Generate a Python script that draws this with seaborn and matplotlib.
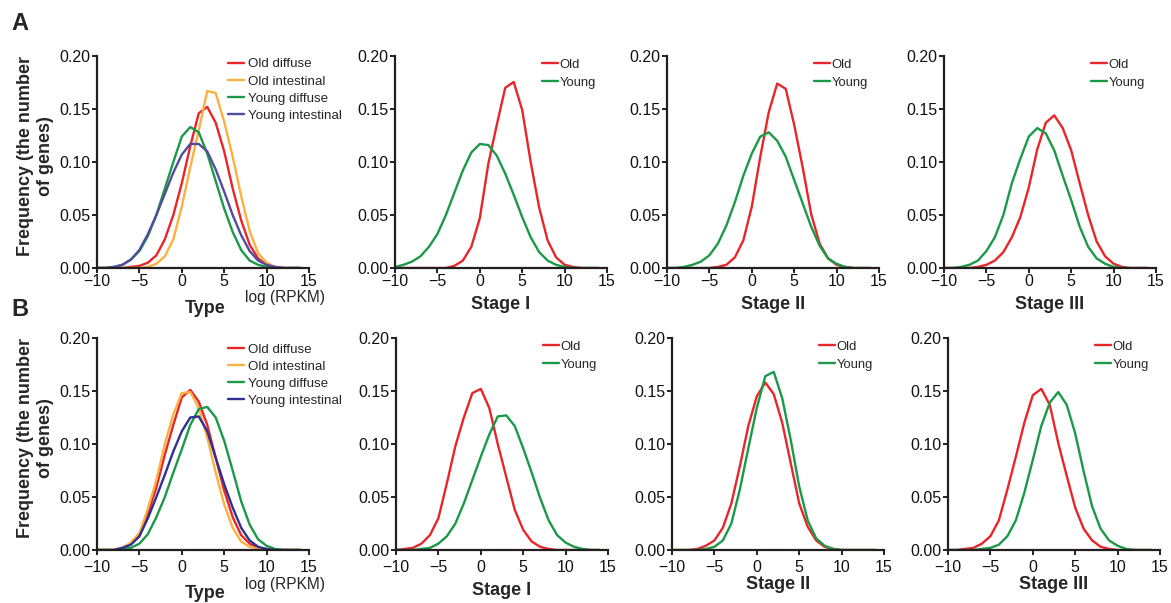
import numpy as np
import pandas as pd
import matplotlib
matplotlib.use("Agg")
import matplotlib.pyplot as plt
import seaborn as sns

# ---------------- data ----------------
x_vals = list(range(-10, 15))
x_ticks = [-10, -5, 0, 5, 10, 15]
y_ticks = [0.00, 0.05, 0.10, 0.15, 0.20]

type_labels = ["Old diffuse", "Old intestinal", "Young diffuse", "Young intestinal"]
stage_labels = ["Old", "Young"]
stage_titles = ["Stage I", "Stage II", "Stage III"]

# Row A
old_diffuse_A = [0, 0, 0, 0, 0.001, 0.002, 0.005, 0.012, 0.027, 0.05, 0.08, 0.115, 0.146, 0.152, 0.137, 0.11, 0.075, 0.045, 0.022, 0.009, 0.003, 0.001, 0, 0, 0]
old_intest_A = [0, 0, 0, 0, 0, 0, 0.001, 0.004, 0.011, 0.027, 0.058, 0.095, 0.13, 0.167, 0.165, 0.138, 0.105, 0.068, 0.035, 0.014, 0.005, 0.001, 0, 0, 0]
young_diffuse_A = [0, 0, 0.001, 0.003, 0.008, 0.016, 0.03, 0.05, 0.075, 0.10, 0.124, 0.133, 0.128, 0.108, 0.082, 0.056, 0.034, 0.017, 0.007, 0.003, 0.001, 0, 0, 0, 0]
young_intest_A = [0, 0, 0.001, 0.003, 0.008, 0.017, 0.032, 0.05, 0.07, 0.09, 0.107, 0.117, 0.117, 0.11, 0.093, 0.072, 0.05, 0.031, 0.016, 0.007, 0.003, 0.001, 0, 0, 0]

old_S1_A = [0, 0, 0, 0, 0, 0, 0, 0.002, 0.007, 0.02, 0.047, 0.098, 0.135, 0.17, 0.1755, 0.149, 0.10, 0.057, 0.026, 0.01, 0.003, 0.001, 0, 0, 0]
young_S1_A = [0.001, 0.003, 0.006, 0.011, 0.02, 0.032, 0.05, 0.071, 0.092, 0.109, 0.117, 0.116, 0.106, 0.089, 0.069, 0.048, 0.029, 0.015, 0.007, 0.003, 0.001, 0, 0, 0, 0]
old_S2_A = [0, 0, 0, 0, 0, 0, 0.001, 0.003, 0.01, 0.026, 0.058, 0.105, 0.147, 0.174, 0.169, 0.135, 0.095, 0.051, 0.023, 0.009, 0.003, 0.001, 0, 0, 0]
young_S2_A = [0, 0, 0.001, 0.003, 0.006, 0.012, 0.023, 0.04, 0.062, 0.087, 0.108, 0.124, 0.128, 0.12, 0.105, 0.083, 0.061, 0.039, 0.021, 0.009, 0.004, 0.001, 0, 0, 0]
old_S3_A = [0, 0, 0, 0, 0.001, 0.003, 0.007, 0.015, 0.029, 0.048, 0.076, 0.112, 0.137, 0.144, 0.132, 0.111, 0.08, 0.05, 0.025, 0.011, 0.004, 0.001, 0, 0, 0]
young_S3_A = [0, 0, 0.001, 0.003, 0.007, 0.016, 0.029, 0.05, 0.08, 0.103, 0.124, 0.132, 0.127, 0.111, 0.087, 0.064, 0.039, 0.02, 0.009, 0.004, 0.001, 0, 0, 0, 0]

# Row B
old_diffuse_B = [0, 0, 0, 0.002, 0.006, 0.013, 0.034, 0.059, 0.09, 0.118, 0.144, 0.151, 0.14, 0.118, 0.087, 0.056, 0.031, 0.014, 0.006, 0.002, 0.001, 0, 0, 0, 0]
old_intest_B = [0, 0, 0, 0.002, 0.007, 0.016, 0.039, 0.066, 0.1, 0.128, 0.148, 0.149, 0.134, 0.106, 0.073, 0.043, 0.021, 0.008, 0.003, 0.001, 0, 0, 0, 0, 0]
young_diffuse_B = [0, 0, 0, 0.001, 0.002, 0.006, 0.015, 0.031, 0.05, 0.073, 0.095, 0.118, 0.133, 0.135, 0.125, 0.103, 0.075, 0.046, 0.024, 0.01, 0.004, 0.001, 0, 0, 0]
young_intest_B = [0, 0, 0, 0.002, 0.005, 0.013, 0.03, 0.05, 0.071, 0.093, 0.112, 0.125, 0.126, 0.112, 0.087, 0.062, 0.04, 0.021, 0.009, 0.003, 0.001, 0, 0, 0, 0]

old_S1_B = [0, 0.001, 0.002, 0.006, 0.014, 0.03, 0.063, 0.098, 0.125, 0.148, 0.152, 0.134, 0.10, 0.069, 0.038, 0.019, 0.008, 0.003, 0.001, 0, 0, 0, 0, 0, 0]
young_S1_B = [0, 0, 0, 0.001, 0.002, 0.006, 0.013, 0.025, 0.044, 0.066, 0.088, 0.109, 0.126, 0.127, 0.117, 0.096, 0.073, 0.049, 0.028, 0.014, 0.007, 0.003, 0.001, 0, 0]
old_S2_B = [0, 0, 0, 0.001, 0.004, 0.009, 0.021, 0.044, 0.079, 0.117, 0.145, 0.158, 0.147, 0.12, 0.082, 0.044, 0.022, 0.009, 0.003, 0.001, 0, 0, 0, 0, 0]
young_S2_B = [0, 0, 0, 0, 0.001, 0.003, 0.009, 0.025, 0.057, 0.096, 0.134, 0.164, 0.168, 0.143, 0.104, 0.06, 0.028, 0.011, 0.004, 0.001, 0, 0, 0, 0, 0]
old_S3_B = [0, 0, 0.001, 0.002, 0.006, 0.013, 0.028, 0.057, 0.088, 0.12, 0.146, 0.152, 0.137, 0.101, 0.07, 0.04, 0.02, 0.009, 0.003, 0.001, 0, 0, 0, 0, 0]
young_S3_B = [0, 0, 0, 0, 0.001, 0.002, 0.005, 0.013, 0.028, 0.054, 0.085, 0.117, 0.139, 0.149, 0.137, 0.11, 0.074, 0.041, 0.02, 0.009, 0.004, 0.001, 0, 0, 0]

# ---------------- style ----------------
sns.set_theme(style="ticks")
plt.rcParams["font.family"] = ["Liberation Sans", "DejaVu Sans"]

RED = "#E8262A"
ORANGE = "#FBB040"
GREEN = "#1A9A48"
BLUE_A = "#524C9F"
BLUE_B = "#2E3192"
SPINE = "#231F20"

fig = plt.figure(figsize=(11.71, 6.03), dpi=100)
W = 212 / 1171
H = 212 / 603
lefts_A = [97, 395, 667, 944]
lefts_B = [97, 396, 672, 948]
bottom_A = 1 - 268 / 603
bottom_B = 1 - 550 / 603

rows = {
    "A": dict(
        lefts=lefts_A, bottom=bottom_A,
        type_series=[old_diffuse_A, old_intest_A, young_diffuse_A, young_intest_A],
        blue=BLUE_A,
        stages=[(old_S1_A, young_S1_A), (old_S2_A, young_S2_A), (old_S3_A, young_S3_A)],
        tickpad=1.0, type_off=29.5, log_off=21.5, stage_offs=[26, 26, 26],
        leg_top=0.99,
    ),
    "B": dict(
        lefts=lefts_B, bottom=bottom_B,
        type_series=[old_diffuse_B, old_intest_B, young_diffuse_B, young_intest_B],
        blue=BLUE_B,
        stages=[(old_S1_B, young_S1_B), (old_S2_B, young_S2_B), (old_S3_B, young_S3_B)],
        tickpad=3.5, type_off=31.5, log_off=24.5, stage_offs=[29, 25, 24.5],
        leg_top=0.975,
    ),
}


def style_axes(ax, tickpad):
    ax.set_xlim(-10, 15)
    ax.set_ylim(0, 0.2)
    ax.set_xticks(x_ticks)
    ax.set_yticks(y_ticks)
    ax.set_xticklabels(["\u221210", "\u22125", "0", "5", "10", "15"])
    ax.set_yticklabels([f"{v:.2f}" for v in y_ticks])
    for s in ["top", "right"]:
        ax.spines[s].set_visible(False)
    for s in ["left", "bottom"]:
        ax.spines[s].set_color(SPINE)
        ax.spines[s].set_linewidth(1.6)
    ax.tick_params(axis="both", direction="out", length=3.5, width=1.4,
                   color=SPINE, labelsize=11.5, labelcolor="#111111")
    ax.tick_params(axis="x", pad=tickpad)
    ax.tick_params(axis="y", pad=1.5)
    ax.set_xlabel("")
    ax.set_ylabel("")


for rkey, r in rows.items():
    # Type panel
    ax = fig.add_axes([r["lefts"][0] / 1171, r["bottom"], W, H])
    colors = [RED, ORANGE, GREEN, r["blue"]]
    for lab, ser, col in zip(type_labels, r["type_series"], colors):
        assert len(ser) == len(x_vals)
        df = pd.DataFrame({"x": x_vals, "y": ser})
        sns.lineplot(data=df, x="x", y="y", color=col, lw=1.7, label=lab, ax=ax)
    style_axes(ax, r["tickpad"])
    ax.legend(frameon=False, loc="upper left", bbox_to_anchor=(0.618, r["leg_top"]),
              fontsize=9.6, handlelength=1.2, handletextpad=0.3,
              labelspacing=0.36, borderpad=0, borderaxespad=0)
    ax.set_ylabel("Frequency (the number\nof genes)", fontsize=13, fontweight="bold")
    ax.yaxis.set_label_coords(-0.205, 0.53)
    ax.annotate("Type", xy=(0.51, 0), xycoords="axes fraction",
                xytext=(0, -r["type_off"]), textcoords="offset points",
                ha="center", va="center", fontsize=13, fontweight="bold")
    ax.annotate("log (RPKM)", xy=(0.886, 0), xycoords="axes fraction",
                xytext=(0, -r["log_off"]), textcoords="offset points",
                ha="center", va="center", fontsize=11.2)

    # Stage panels
    for i, (old_s, young_s) in enumerate(r["stages"]):
        ax = fig.add_axes([r["lefts"][i + 1] / 1171, r["bottom"], W, H])
        for lab, ser, col in zip(stage_labels, [old_s, young_s], [RED, GREEN]):
            assert len(ser) == len(x_vals)
            df = pd.DataFrame({"x": x_vals, "y": ser})
            sns.lineplot(data=df, x="x", y="y", color=col, lw=1.7, label=lab, ax=ax)
        style_axes(ax, r["tickpad"])
        ax.legend(frameon=False, loc="upper left", bbox_to_anchor=(0.695, 0.987),
                  fontsize=9.4, handlelength=1.2, handletextpad=0.12,
                  labelspacing=0.42, borderpad=0, borderaxespad=0)
        ax.annotate(stage_titles[i], xy=(0.5, 0), xycoords="axes fraction",
                    xytext=(0, -r["stage_offs"][i]), textcoords="offset points",
                    ha="center", va="center", fontsize=13, fontweight="bold")

fig.text(0.010, 1 - 23 / 603, "A", fontsize=17, fontweight="bold", va="center", ha="left")
fig.text(0.010, 1 - 310 / 603, "B", fontsize=17, fontweight="bold", va="center", ha="left")

fig.savefig("out.png", dpi=100)
